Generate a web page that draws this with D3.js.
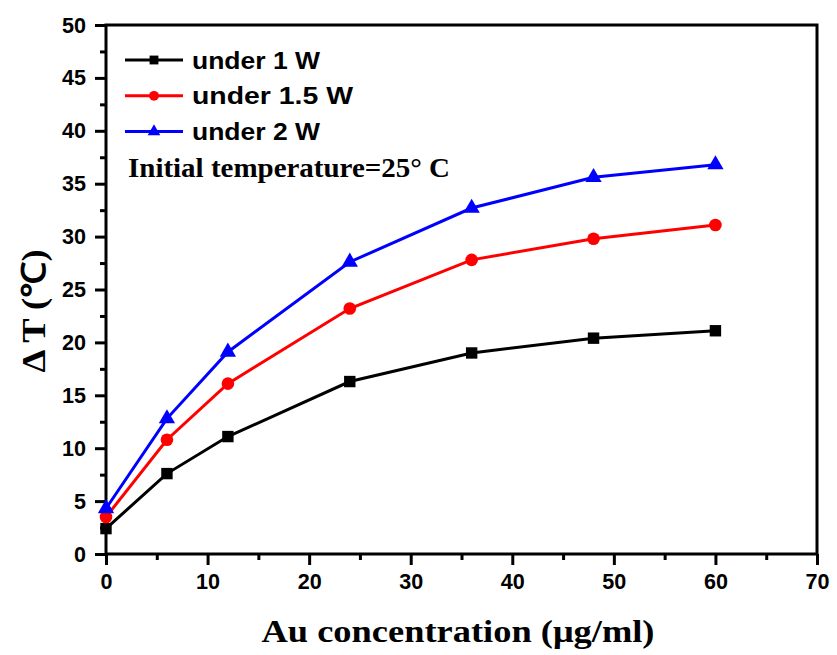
<!DOCTYPE html>
<html>
<head>
<meta charset="utf-8">
<script src="https://cdn.jsdelivr.net/npm/d3@7"></script>
<style>
  body { margin: 0; background: #fff; }
  svg { display: block; }
</style>
</head>
<body>
<script>
// concentration of Au (ug/ml)
var conc = [0, 6, 12, 24, 36, 48, 60];
// temperature rise under each laser power
var under1 = [2.4, 7.6, 11.1, 16.3, 19.0, 20.4, 21.1];
var under15 = [3.5, 10.8, 16.1, 23.2, 27.8, 29.8, 31.1];
var under2 = [4.3, 12.8, 19.1, 27.6, 32.7, 35.6, 36.8];
var seriesNames = ["under 1 W", "under 1.5 W", "under 2 W"];
var xTicks = [0, 10, 20, 30, 40, 50, 60, 70];
var yTicks = [0, 5, 10, 15, 20, 25, 30, 35, 40, 45, 50];

var width = 837, height = 655;
var plotL = 106, plotR = 817, plotT = 25, plotB = 554;

var series = [
  { name: seriesNames[0], values: under1, color: "#000000", shape: d3.symbolSquare, size: 130 },
  { name: seriesNames[1], values: under15, color: "#ff0000", shape: d3.symbolCircle, size: 125 },
  { name: seriesNames[2], values: under2, color: "#0000ff", shape: d3.symbolTriangle, size: 115 }
];

var svg = d3.select("body").append("svg")
  .attr("width", width)
  .attr("height", height);

var x = d3.scaleLinear().domain([0, 70]).range([plotL, plotR]);
var y = d3.scaleLinear().domain([0, 50]).range([plotB, plotT]);

// minor ticks first, majors on top
svg.append("g")
  .attr("transform", "translate(0," + plotB + ")")
  .call(d3.axisBottom(x).tickValues(d3.range(5, 70, 10)).tickSize(6).tickFormat(""))
  .call(function(g) { g.select(".domain").remove(); });
svg.append("g")
  .attr("transform", "translate(" + plotL + ",0)")
  .call(d3.axisLeft(y).tickValues(d3.range(2.5, 50, 5)).tickSize(6).tickFormat(""))
  .call(function(g) { g.select(".domain").remove(); });

svg.append("g")
  .attr("transform", "translate(0," + plotB + ")")
  .call(d3.axisBottom(x).tickValues(xTicks).tickSize(11).tickSizeOuter(0).tickPadding(8));
svg.append("g")
  .attr("transform", "translate(" + plotL + ",0)")
  .call(d3.axisLeft(y).tickValues(yTicks).tickSize(11).tickSizeOuter(0).tickPadding(9));

svg.selectAll(".tick line").attr("stroke", "#000").attr("stroke-width", 3);
svg.selectAll(".domain").remove();
svg.selectAll(".tick text")
  .style("font-family", "Liberation Sans, Arial, sans-serif")
  .style("font-weight", "bold")
  .style("font-size", "22px")
  .attr("fill", "#000")
  .attr("lengthAdjust", "spacingAndGlyphs")
  .attr("textLength", function() { return this.textContent.length * 12; });

// frame
svg.append("rect")
  .attr("x", plotL).attr("y", plotT)
  .attr("width", plotR - plotL).attr("height", plotB - plotT)
  .attr("fill", "none").attr("stroke", "#000").attr("stroke-width", 3);

var line = d3.line()
  .x(function(d, i) { return x(conc[i]); })
  .y(function(d) { return y(d); });

series.forEach(function(s) {
  svg.append("path")
    .datum(s.values)
    .attr("d", line)
    .attr("fill", "none")
    .attr("stroke", s.color)
    .attr("stroke-width", 3);
  svg.selectAll(null)
    .data(s.values)
    .enter()
    .append("path")
    .attr("transform", function(d, i) { return "translate(" + x(conc[i]) + "," + y(d) + ")"; })
    .attr("d", d3.symbol().type(s.shape).size(s.size))
    .attr("fill", s.color);
});

// legend
var legLen = [128, 161, 128];
var leg = svg.selectAll(".leg")
  .data(series)
  .enter()
  .append("g")
  .attr("transform", function(d, i) { return "translate(125," + (60 + i * 35.8) + ")"; });
leg.append("line")
  .attr("x1", 0).attr("x2", 58)
  .attr("stroke", function(d) { return d.color; })
  .attr("stroke-width", 3);
leg.append("path")
  .attr("transform", "translate(29,0)")
  .attr("d", function(d) { return d3.symbol().type(d.shape).size(d.size * 0.6)(); })
  .attr("fill", function(d) { return d.color; });
leg.append("text")
  .attr("x", 67).attr("dy", "0.36em")
  .style("font-family", "Liberation Sans, Arial, sans-serif")
  .style("font-weight", "bold")
  .style("font-size", "24px")
  .attr("lengthAdjust", "spacingAndGlyphs")
  .attr("textLength", function(d, i) { return legLen[i]; })
  .text(function(d) { return d.name; });

svg.append("text")
  .attr("x", 128).attr("y", 177)
  .style("font-family", "Liberation Serif, Times New Roman, serif")
  .style("font-weight", "bold")
  .style("font-size", "27px")
  .attr("lengthAdjust", "spacingAndGlyphs")
  .attr("textLength", 322)
  .text("Initial temperature=25° C");

// axis titles
svg.append("text")
  .attr("transform", "translate(45,311) rotate(-90)")
  .attr("text-anchor", "middle")
  .style("font-family", "Liberation Serif, Times New Roman, serif")
  .style("font-weight", "bold")
  .style("font-size", "33px")
  .attr("lengthAdjust", "spacingAndGlyphs")
  .attr("textLength", 123)
  .text("Δ T (℃)");

svg.append("text")
  .attr("x", 458).attr("y", 642)
  .attr("text-anchor", "middle")
  .style("font-family", "Liberation Serif, Times New Roman, serif")
  .style("font-weight", "bold")
  .style("font-size", "31px")
  .attr("lengthAdjust", "spacingAndGlyphs")
  .attr("textLength", 393)
  .text("Au concentration (μg/ml)");
</script>
</body>
</html>
